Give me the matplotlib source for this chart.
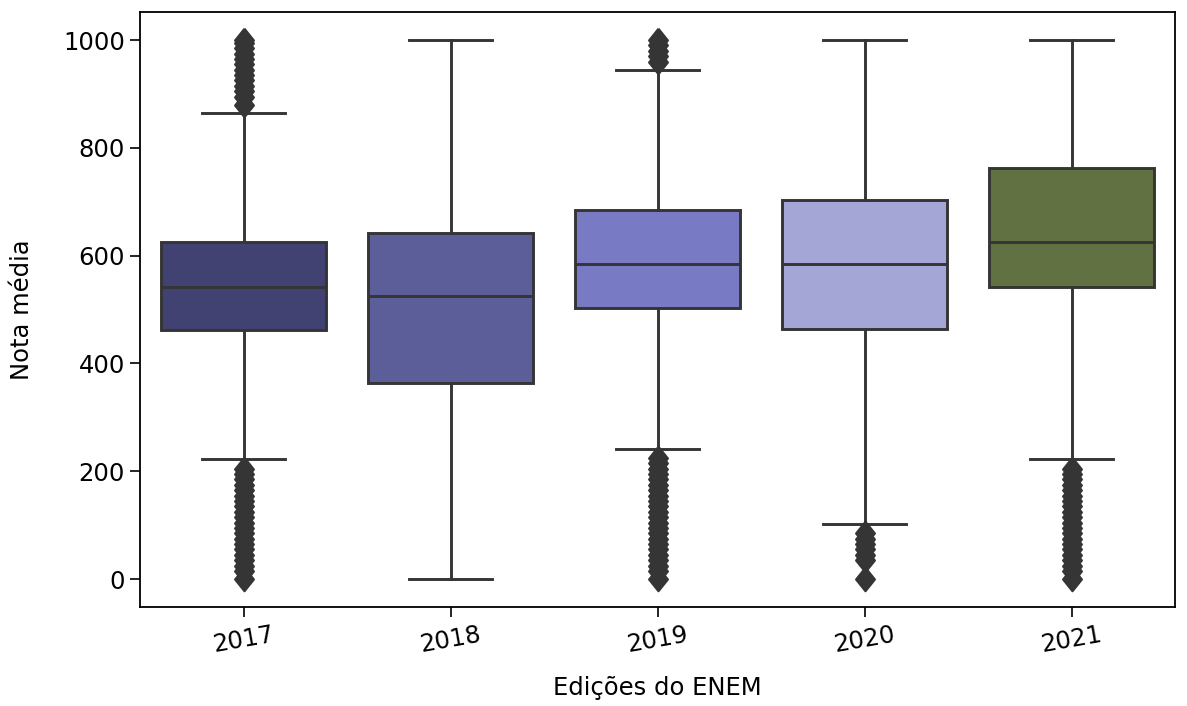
import colorsys
import matplotlib
matplotlib.use("Agg")
import matplotlib.pyplot as plt
import matplotlib.colors as mcolors

# ---- data ----
years = ["2017", "2018", "2019", "2020", "2021"]
whislo = [222, 0, 241, 102, 222]
q1 = [462, 363, 503, 464, 542]
med = [542, 525, 584, 584, 625]
q3 = [625, 642, 685, 703, 763]
whishi = [865, 1000, 944, 1000, 1000]
fliers_2017 = [0, 15, 25, 35, 45, 55, 65, 75, 85, 95, 105, 115, 125, 135, 145, 155, 165, 175,
               185, 195, 205, 880, 895, 905, 915, 925, 935, 945, 955, 965, 975, 985, 995, 1000]
fliers_2018 = []
fliers_2019 = [0, 15, 25, 35, 45, 55, 65, 75, 85, 95, 105, 115, 125, 135, 145, 155, 165, 175,
               185, 195, 205, 215, 225, 960, 970, 980, 990, 1000]
fliers_2020 = [0, 35, 45, 55, 65, 75, 85]
fliers_2021 = [0, 15, 25, 35, 45, 55, 65, 75, 85, 95, 105, 115, 125, 135, 145, 155, 165, 175,
               185, 195, 205]
fliers = [fliers_2017, fliers_2018, fliers_2019, fliers_2020, fliers_2021]
base_colors = ["#393b79", "#5254a3", "#6b6ecf", "#9c9ede", "#637939"]


def desaturate(c, prop=0.75):
    r, g, b = mcolors.to_rgb(c)
    h, l, s = colorsys.rgb_to_hls(r, g, b)
    return colorsys.hls_to_rgb(h, l, s * prop)


colors = [desaturate(c) for c in base_colors]
line_gray = "#353535"

stats = []
for i, y in enumerate(years):
    stats.append(dict(label=y, whislo=whislo[i], q1=q1[i], med=med[i], q3=q3[i],
                      whishi=whishi[i], fliers=fliers[i]))

plt.rcParams["font.family"] = ["DejaVu Sans"]

fig = plt.figure(figsize=(11.87, 7.06), dpi=100)
ax = fig.add_axes([0.118, 0.14, 0.872, 0.843])

lw = 2.1
diamond = [(0, 1), (0.8, 0), (0, -1), (-0.8, 0), (0, 1)]
res = ax.bxp(stats, positions=range(len(years)), widths=0.8, patch_artist=True,
             boxprops=dict(linewidth=lw, edgecolor=line_gray),
             medianprops=dict(linewidth=lw, color=line_gray),
             whiskerprops=dict(linewidth=lw, color=line_gray),
             capprops=dict(linewidth=lw, color=line_gray),
             flierprops=dict(marker=diamond, markersize=17, markerfacecolor=line_gray,
                             markeredgecolor=line_gray, markeredgewidth=1.5, linestyle="none"),
             capwidths=0.4)
for patch, c in zip(res["boxes"], colors):
    patch.set_facecolor(c)

ax.set_xlim(-0.5, len(years) - 0.5)
ax.set_ylim(-52, 1052)
ax.set_yticks([0, 200, 400, 600, 800, 1000])
ax.set_xticks(range(len(years)))
ax.set_xticklabels(years, rotation=10)
ax.tick_params(axis="both", length=7, width=1.2, labelsize=17.5, pad=4)
for s in ax.spines.values():
    s.set_linewidth(1.3)
ax.set_xlabel("Edições do ENEM", fontsize=17.5, labelpad=14)
ax.set_ylabel("Nota média", fontsize=17.5, labelpad=21)

fig.savefig("out.png", dpi=100)
